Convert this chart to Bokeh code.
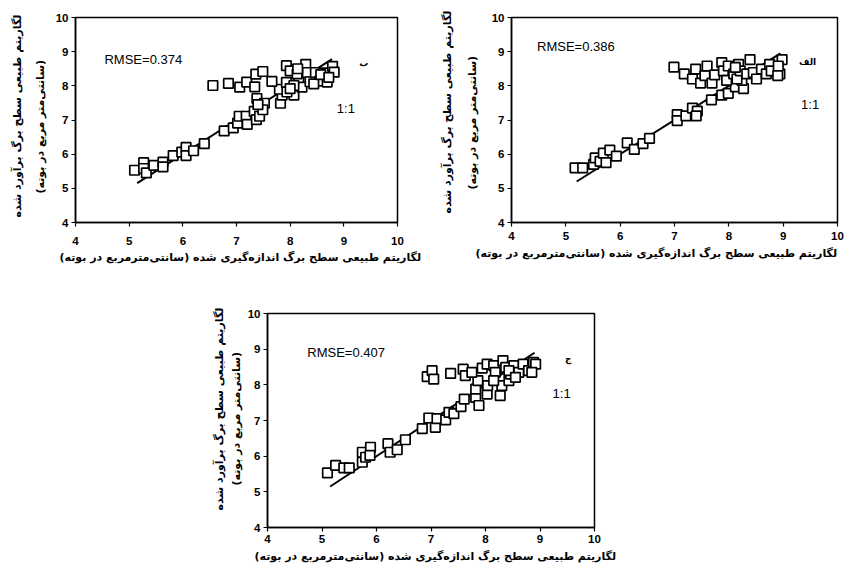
from bokeh.plotting import figure
from bokeh.models import FixedTicker, Label, Spacer, Title
from bokeh.layouts import row, column
from bokeh.embed import file_html
from bokeh.resources import INLINE

# ---------------- data ----------------
ticks = [4, 5, 6, 7, 8, 9, 10]

# panel "ب" (top-left)
b_x = [5.10, 5.27, 5.27, 5.32, 5.46, 5.63, 5.63, 5.82, 5.98, 6.06, 6.06, 6.20, 6.40, 6.77, 6.94,
       7.02, 7.05, 7.18, 7.20, 7.33, 7.37, 7.43, 7.38, 7.52, 7.49, 7.40, 7.82, 7.85, 8.07, 7.80, 7.94,
       6.56, 6.85, 7.06, 7.19, 7.34, 7.36, 7.49, 7.66, 7.93, 8.00, 7.93, 8.16, 8.22, 8.29, 8.32,
       8.37, 8.47, 8.55, 8.63, 8.69, 8.79, 8.82, 8.07, 8.13, 8.44, 8.57, 8.72, 8.14, 8.00]
b_y = [5.53, 5.75, 5.58, 5.45, 5.67, 5.77, 5.63, 5.96, 6.06, 6.20, 5.96, 6.10, 6.31, 6.68, 6.77,
       6.91, 7.11, 7.11, 6.87, 7.25, 7.01, 7.11, 7.63, 7.49, 7.30, 7.45, 7.49, 7.73, 7.73, 7.90, 7.82,
       8.01, 8.07, 7.96, 8.11, 7.97, 8.34, 8.42, 8.13, 8.59, 8.44, 8.10, 8.20, 7.96, 8.63, 8.39,
       8.12, 8.39, 8.14, 8.38, 8.11, 8.57, 8.40, 8.01, 8.35, 8.06, 8.33, 8.25, 8.50, 7.92]

# panel "الف" (top-right)
a_x = [5.17, 5.31, 5.51, 5.54, 5.63, 5.69, 5.74, 5.81, 5.93, 6.13, 6.26, 6.42, 6.54, 7.05, 7.05,
       7.21, 7.33, 7.42, 7.40, 7.68, 7.87, 7.99, 8.12, 8.27, 8.24,
       6.99, 7.18, 7.33, 7.39, 7.48, 7.56, 7.60, 7.69, 7.74, 7.87, 7.90, 7.96, 7.99, 8.09, 8.15,
       8.18, 8.21, 8.33, 8.39, 8.45, 8.51, 8.60, 8.69, 8.75, 8.78, 8.94, 8.98, 8.91, 8.12, 8.90]
a_y = [5.60, 5.60, 5.70, 5.89, 5.79, 6.03, 5.75, 6.12, 5.94, 6.33, 6.14, 6.31, 6.46, 7.16, 6.98,
       7.12, 7.35, 7.26, 7.12, 7.59, 7.73, 7.78, 7.97, 7.92, 8.16,
       8.55, 8.35, 8.20, 8.49, 8.08, 8.30, 8.58, 8.08, 8.32, 8.68, 8.44, 8.16, 8.58, 8.35, 8.20,
       8.63, 8.44, 8.35, 8.77, 8.39, 8.20, 8.49, 8.35, 8.63, 8.44, 8.35, 8.77, 8.58, 8.54, 8.30]

# panel "ج" (bottom)
c_x = [5.10, 5.25, 5.40, 5.50, 5.74, 5.74, 5.80, 5.89, 5.88, 6.21, 6.25, 6.38, 6.53, 6.84, 6.96,
       7.08, 7.11, 7.27, 7.33, 7.42, 7.55, 7.61, 7.82, 7.82, 7.88, 7.86, 8.03, 8.04, 8.27, 8.30, 8.43,
       6.93, 7.02, 7.05, 7.36, 7.59, 7.63, 7.75, 7.94, 8.03, 8.15, 8.18, 8.32, 8.37, 8.46, 8.52,
       8.61, 8.69, 8.79, 8.88, 8.92, 8.85, 8.43, 8.15, 8.55]
c_y = [5.53, 5.74, 5.67, 5.67, 5.83, 6.11, 5.97, 6.25, 6.02, 6.35, 6.11, 6.18, 6.46, 6.77, 7.07,
       6.81, 7.05, 7.02, 7.23, 7.19, 7.39, 7.60, 7.65, 7.88, 7.42, 8.12, 7.74, 7.98, 7.70, 7.98, 8.12,
       8.23, 8.40, 8.16, 8.32, 8.44, 8.26, 8.35, 8.47, 8.58, 8.54, 8.35, 8.68, 8.49, 8.30, 8.54,
       8.35, 8.58, 8.40, 8.63, 8.58, 8.35, 8.40, 8.12, 8.21]

line_b = [5.15, 8.78]
line_a = [5.20, 8.95]
line_c = [5.15, 8.90]

rmse_b = "RMSE=0.374"
rmse_a = "RMSE=0.386"
rmse_c = "RMSE=0.407"
letter_b = "ب"
letter_a = "الف"
letter_c = "ج"
one_one = "1:1"

y_line1 = "لگاریتم طبیعی سطح برگ برآورد شده"
y_line2 = "(سانتی‌متر مربع در بوته)"
x_label = "لگاریتم طبیعی سطح برگ اندازه‌گیری شده (سانتی‌مترمربع در بوته)"

FA_FONT = "DejaVu Sans"
NUM_FONT = "Liberation Sans"
FA_SIZE = "11px"


def fa_title(p, text, side, offset, standoff):
    p.add_layout(Title(text=text, align="left", offset=offset, standoff=standoff,
                       vertical_align="middle", text_font=FA_FONT,
                       text_font_style="bold", text_font_size=FA_SIZE,
                       text_color="black"), side)


def make_panel(xs, ys, ends, rmse, letter, width, height, mbl, mbr, mbt, mbb,
               rmse_xy, one_xy, letter_xy, x_standoff, xlab, y2, y1):
    p = figure(width=width, height=height, x_range=(4, 10), y_range=(4, 10),
               output_backend="svg", toolbar_location=None,
               min_border_left=mbl, min_border_right=mbr,
               min_border_top=mbt, min_border_bottom=mbb)
    p.grid.visible = False
    p.outline_line_color = "black"
    p.outline_line_width = 1.5
    p.background_fill_color = "white"
    p.border_fill_color = "white"

    p.line(ends, ends, line_color="black", line_width=2)
    p.scatter(xs, ys, marker="square", size=9.5, fill_color="white",
              line_color="black", line_width=1.7)

    for ax in (p.xaxis[0], p.yaxis[0]):
        ax.ticker = FixedTicker(ticks=ticks)
        ax.minor_tick_line_color = None
        ax.major_tick_in = 0
        ax.major_tick_out = 4
        ax.axis_line_width = 1.5
        ax.major_tick_line_width = 1.2
        ax.major_label_text_font = NUM_FONT
        ax.major_label_text_font_style = "bold"
        ax.major_label_text_font_size = "11.5px"
        ax.major_label_text_color = "black"
    p.xaxis.major_label_standoff = x_standoff
    p.yaxis.major_label_standoff = 3

    fa_title(p, x_label, "below", xlab[0], xlab[1])
    fa_title(p, y_line2, "left", y2[0], y2[1])
    fa_title(p, y_line1, "left", y1[0], y1[1])

    p.add_layout(Label(x=rmse_xy[0], y=rmse_xy[1], text=rmse, text_font=NUM_FONT,
                       text_font_size="13px", text_baseline="middle", text_align="left",
                       text_color="black"))
    p.add_layout(Label(x=one_xy[0], y=one_xy[1], text=one_one, text_font=NUM_FONT,
                       text_font_size="13px", text_baseline="middle", text_align="left",
                       text_color="black"))
    p.add_layout(Label(x=letter_xy[0], y=letter_xy[1], text=letter, text_font=FA_FONT,
                       text_font_size="9px", text_font_style="bold", text_baseline="middle",
                       text_align="center", text_color="black"))
    return p


p1 = make_panel(b_x, b_y, line_b, rmse_b, letter_b, 439, 276, 75, 42, 14, 54,
                (4.54, 8.76), (8.87, 7.33), (9.37, 8.67), 10,
                (-16, 4), (29, 9), (5, 7))
p2 = make_panel(a_x, a_y, line_a, rmse_a, letter_a, 406, 276, 68, 8, 17, 48,
                (4.47, 9.14), (9.33, 7.45), (9.45, 8.7), 5,
                (-36, 6), (33, 18), (9, 1))
p3 = make_panel(c_x, c_y, line_c, rmse_c, letter_c, 426, 294, 69, 30, 37, 43,
                (4.73, 8.9), (9.23, 7.75), (9.52, 8.73), 3,
                (-13, 7), (42, 2), (17, 1))

layout = column(row(p1, p2), row(Spacer(width=198, height=10), p3))

open("out.html", "w").write(file_html(layout, INLINE))
